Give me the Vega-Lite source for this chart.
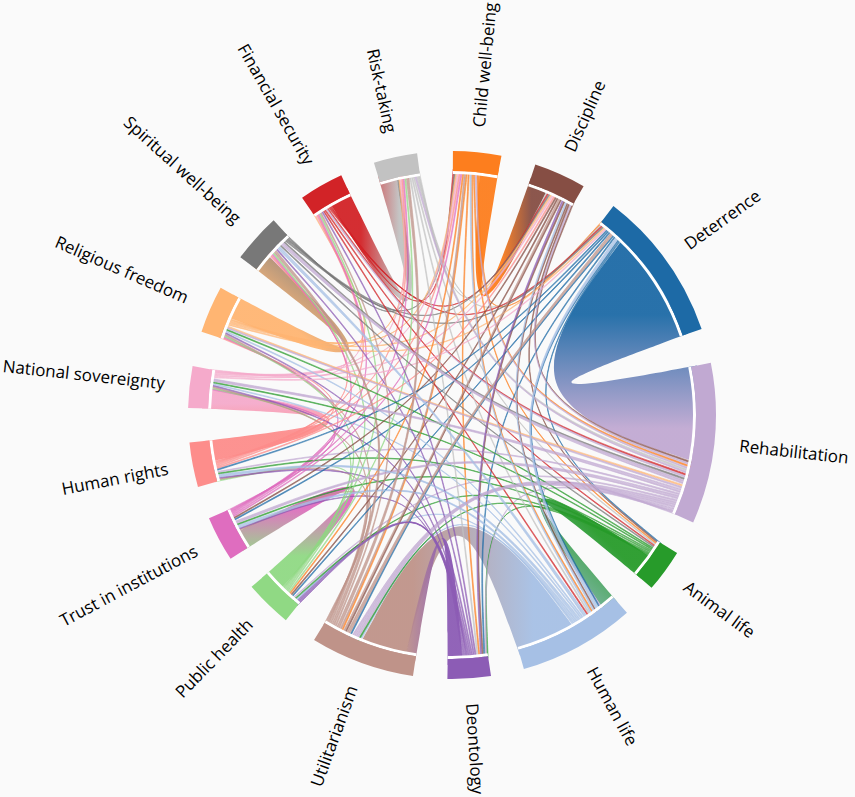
{
  "$schema": "https://vega.github.io/schema/vega-lite/v6.json",
  "width": 560,
  "height": 560,
  "autosize": "none",
  "padding": {"left": 172, "top": 135, "right": 123, "bottom": 102},
  "background": "#fafafa",
  "config": {"view": {"stroke": null}},
  "datasets": {
    "groups": [
      {"i": 0, "name": "Child well-being", "a0": 0.2, "a1": 10.8, "u0": 0.2, "u1": 6.5},
      {"i": 1, "name": "Discipline", "a0": 18.4, "a1": 29.9, "u0": 23, "u1": 29.9},
      {"i": 2, "name": "Deterrence", "a0": 37.7, "a1": 71, "u0": 37.7, "u1": 44},
      {"i": 3, "name": "Rehabilitation", "a0": 78.6, "a1": 114, "u0": 101, "u1": 114},
      {"i": 4, "name": "Animal life", "a0": 121.5, "a1": 130.9, "u0": 121.5, "u1": 125.5},
      {"i": 5, "name": "Human life", "a0": 138.5, "a1": 164.2, "u0": 142, "u1": 150},
      {"i": 6, "name": "Deontology", "a0": 171.5, "a1": 181, "u0": 171.5, "u1": 177.5},
      {"i": 7, "name": "Utilitarianism", "a0": 188.5, "a1": 211.5, "u0": 202, "u1": 211.5},
      {"i": 8, "name": "Public health", "a0": 219, "a1": 229.4, "u0": 219, "u1": 224.5},
      {"i": 9, "name": "Trust in institutions", "a0": 237, "a1": 247, "u0": 241.5, "u1": 247},
      {"i": 10, "name": "Human rights", "a0": 254.2, "a1": 264, "u0": 254.2, "u1": 259},
      {"i": 11, "name": "National sovereignty", "a0": 271.5, "a1": 280.7, "u0": 276, "u1": 280.7},
      {"i": 12, "name": "Religious freedom", "a0": 288.4, "a1": 298.8, "u0": 288.4, "u1": 293.5},
      {"i": 13, "name": "Spiritual well-being", "a0": 306.7, "a1": 317.5, "u0": 311, "u1": 317.5},
      {"i": 14, "name": "Financial security", "a0": 325.4, "a1": 335.2, "u0": 325.4, "u1": 330},
      {"i": 15, "name": "Risk-taking", "a0": 342.8, "a1": 352.4, "u0": 347, "u1": 352.4}
    ],
    "ribbons": [
      {"r": 1, "s0": 6.5, "s1": 10.8, "t0": 18.4, "t1": 23},
      {"r": 2, "s0": 44, "s1": 71, "t0": 78.6, "t1": 101},
      {"r": 3, "s0": 125.5, "s1": 130.9, "t0": 138.5, "t1": 142},
      {"r": 4, "s0": 150, "s1": 164.2, "t0": 191, "t1": 202},
      {"r": 5, "s0": 177.5, "s1": 181, "t0": 188.5, "t1": 191},
      {"r": 6, "s0": 224.5, "s1": 229.4, "t0": 237, "t1": 241.5},
      {"r": 7, "s0": 259, "s1": 264, "t0": 271.5, "t1": 276},
      {"r": 8, "s0": 293.5, "s1": 298.8, "t0": 306.7, "t1": 311},
      {"r": 9, "s0": 330, "s1": 335.2, "t0": 342.8, "t1": 347}
    ],
    "links": [
      {"a": 0, "b": 2}, {"a": 1, "b": 3}, {"a": 2, "b": 4}, {"a": 3, "b": 5}, {"a": 4, "b": 6}, {"a": 5, "b": 7}, {"a": 6, "b": 8}, {"a": 7, "b": 9},
      {"a": 8, "b": 10}, {"a": 9, "b": 11}, {"a": 10, "b": 12}, {"a": 11, "b": 13}, {"a": 12, "b": 14}, {"a": 13, "b": 15}, {"a": 14, "b": 0}, {"a": 15, "b": 1},
      {"a": 0, "b": 3}, {"a": 1, "b": 4}, {"a": 2, "b": 5}, {"a": 3, "b": 6}, {"a": 4, "b": 7}, {"a": 5, "b": 8}, {"a": 6, "b": 9}, {"a": 7, "b": 10},
      {"a": 8, "b": 11}, {"a": 9, "b": 12}, {"a": 10, "b": 13}, {"a": 11, "b": 14}, {"a": 12, "b": 15}, {"a": 13, "b": 0}, {"a": 14, "b": 1}, {"a": 15, "b": 2},
      {"a": 0, "b": 4}, {"a": 1, "b": 5}, {"a": 2, "b": 6}, {"a": 3, "b": 7}, {"a": 4, "b": 8}, {"a": 5, "b": 9}, {"a": 6, "b": 10}, {"a": 7, "b": 11},
      {"a": 8, "b": 12}, {"a": 9, "b": 13}, {"a": 10, "b": 14}, {"a": 11, "b": 15}, {"a": 12, "b": 0}, {"a": 13, "b": 1}, {"a": 14, "b": 2}, {"a": 15, "b": 3},
      {"a": 0, "b": 5}, {"a": 1, "b": 6}, {"a": 2, "b": 7}, {"a": 3, "b": 8}, {"a": 4, "b": 9}, {"a": 5, "b": 10}, {"a": 6, "b": 11}, {"a": 7, "b": 12},
      {"a": 8, "b": 13}, {"a": 9, "b": 14}, {"a": 10, "b": 15}, {"a": 11, "b": 0}, {"a": 12, "b": 1}, {"a": 13, "b": 2}, {"a": 14, "b": 3}, {"a": 15, "b": 4},
      {"a": 0, "b": 6}, {"a": 1, "b": 7}, {"a": 2, "b": 8}, {"a": 3, "b": 9}, {"a": 4, "b": 10}, {"a": 5, "b": 11}, {"a": 6, "b": 12}, {"a": 7, "b": 13},
      {"a": 8, "b": 14}, {"a": 9, "b": 15}, {"a": 10, "b": 0}, {"a": 11, "b": 1}, {"a": 12, "b": 2}, {"a": 13, "b": 3}, {"a": 14, "b": 4}, {"a": 15, "b": 5},
      {"a": 0, "b": 7}, {"a": 1, "b": 8}, {"a": 2, "b": 9}, {"a": 3, "b": 10}, {"a": 4, "b": 11}, {"a": 5, "b": 12}, {"a": 6, "b": 13}, {"a": 7, "b": 14},
      {"a": 8, "b": 15}, {"a": 9, "b": 0}, {"a": 10, "b": 1}, {"a": 11, "b": 2}, {"a": 12, "b": 3}, {"a": 13, "b": 4}, {"a": 14, "b": 5}, {"a": 15, "b": 6},
      {"a": 0, "b": 8}, {"a": 1, "b": 9}, {"a": 2, "b": 10}, {"a": 3, "b": 11}, {"a": 4, "b": 12}, {"a": 5, "b": 13}, {"a": 6, "b": 14}, {"a": 7, "b": 15},
      {"a": 3, "b": 7}, {"a": 3, "b": 7}, {"a": 3, "b": 7}, {"a": 3, "b": 13}, {"a": 3, "b": 13}, {"a": 3, "b": 0}, {"a": 3, "b": 1}, {"a": 3, "b": 9},
      {"a": 3, "b": 11}, {"a": 3, "b": 14}, {"a": 3, "b": 12}, {"a": 3, "b": 15}, {"a": 5, "b": 2}, {"a": 5, "b": 2}, {"a": 5, "b": 13}, {"a": 5, "b": 0},
      {"a": 5, "b": 1}, {"a": 5, "b": 10}, {"a": 5, "b": 9}, {"a": 7, "b": 2}, {"a": 7, "b": 2}, {"a": 7, "b": 1}, {"a": 7, "b": 13}, {"a": 7, "b": 0},
      {"a": 7, "b": 15}, {"a": 6, "b": 1}, {"a": 6, "b": 8}, {"a": 6, "b": 8}
    ]
  },
  "layer": [
    {
      "data": {"name": "ribbons"},
      "transform": [
        {"fold": ["t1", "t1", "t1", "c2", "s0", "s0", "s0", "s1", "s1", "s1", "c1", "t0", "t0", "t0"], "as": ["key", "v"]},
        {"calculate": "indexof(['t1','c2','s0','s1','c1','t0'], datum.key)", "as": "k"},
        {"calculate": "datum.key==='c2' ? 245*(sin(datum.t1*PI/180)+sin(datum.s0*PI/180))/8 : (datum.key==='c1' ? 245*(sin(datum.s1*PI/180)+sin(datum.t0*PI/180))/8 : 250*sin(datum.v*PI/180))", "as": "x"},
        {"calculate": "datum.key==='c2' ? 245*(cos(datum.t1*PI/180)+cos(datum.s0*PI/180))/8 : (datum.key==='c1' ? 245*(cos(datum.s1*PI/180)+cos(datum.t0*PI/180))/8 : 250*cos(datum.v*PI/180))", "as": "y"}
      ],
      "encoding": {
        "x": {"field": "x", "type": "quantitative", "scale": {"domain": [-280, 280], "nice": false, "zero": false}, "axis": null},
        "y": {"field": "y", "type": "quantitative", "scale": {"domain": [-280, 280], "nice": false, "zero": false}, "axis": null},
        "order": {"field": "k", "type": "quantitative"}
      },
      "layer": [
        {"transform": [{"filter": "datum.r===1"}], "mark": {"type": "line", "interpolate": "basis", "filled": true, "strokeWidth": 0, "fillOpacity": 0.95, "fill": {"gradient": "linear", "x1": 0, "y1": 0, "x2": 1, "y2": 0, "stops": [{"offset": 0, "color": "#fd7e1e"}, {"offset": 0.35, "color": "#fd7e1e"}, {"offset": 0.75, "color": "#864e44"}, {"offset": 1, "color": "#864e44"}]}}},
        {"transform": [{"filter": "datum.r===2"}], "mark": {"type": "line", "interpolate": "basis", "filled": true, "strokeWidth": 0, "fillOpacity": 0.95, "fill": {"gradient": "linear", "x1": 0, "y1": 0, "x2": 0, "y2": 1, "stops": [{"offset": 0, "color": "#1d6aa6"}, {"offset": 0.35, "color": "#1d6aa6"}, {"offset": 0.85, "color": "#c1a9d2"}, {"offset": 1, "color": "#c1a9d2"}]}}},
        {"transform": [{"filter": "datum.r===3"}], "mark": {"type": "line", "interpolate": "basis", "filled": true, "strokeWidth": 0, "fillOpacity": 0.95, "fill": {"gradient": "linear", "x1": 1, "y1": 0, "x2": 0, "y2": 1, "stops": [{"offset": 0, "color": "#279b2a"}, {"offset": 0.4, "color": "#279b2a"}, {"offset": 1, "color": "#a6c0e5"}]}}},
        {"transform": [{"filter": "datum.r===4"}], "mark": {"type": "line", "interpolate": "basis", "filled": true, "strokeWidth": 0, "fillOpacity": 0.95, "fill": {"gradient": "linear", "x1": 1, "y1": 0, "x2": 0, "y2": 0, "stops": [{"offset": 0, "color": "#a6c0e5"}, {"offset": 0.2, "color": "#a6c0e5"}, {"offset": 0.75, "color": "#bf9389"}, {"offset": 1, "color": "#bf9389"}]}}},
        {"transform": [{"filter": "datum.r===5"}], "mark": {"type": "line", "interpolate": "basis", "filled": true, "strokeWidth": 0, "fillOpacity": 0.95, "fill": {"gradient": "linear", "x1": 1, "y1": 0, "x2": 0, "y2": 0, "stops": [{"offset": 0, "color": "#8c5cb5"}, {"offset": 0.3, "color": "#8c5cb5"}, {"offset": 1, "color": "#bf9389"}]}}},
        {"transform": [{"filter": "datum.r===6"}], "mark": {"type": "line", "interpolate": "basis", "filled": true, "strokeWidth": 0, "fillOpacity": 0.95, "fill": {"gradient": "linear", "x1": 0, "y1": 1, "x2": 0, "y2": 0, "stops": [{"offset": 0, "color": "#90d984"}, {"offset": 0.35, "color": "#90d984"}, {"offset": 0.8, "color": "#df6dbf"}, {"offset": 1, "color": "#df6dbf"}]}}},
        {"transform": [{"filter": "datum.r===7"}], "mark": {"type": "line", "interpolate": "basis", "filled": true, "strokeWidth": 0, "fillOpacity": 0.95, "fill": {"gradient": "linear", "x1": 0, "y1": 1, "x2": 0, "y2": 0, "stops": [{"offset": 0, "color": "#fd8d8b"}, {"offset": 0.4, "color": "#fd8d8b"}, {"offset": 0.8, "color": "#f5aacb"}, {"offset": 1, "color": "#f5aacb"}]}}},
        {"transform": [{"filter": "datum.r===8"}], "mark": {"type": "line", "interpolate": "basis", "filled": true, "strokeWidth": 0, "fillOpacity": 0.95, "fill": {"gradient": "linear", "x1": 0, "y1": 1, "x2": 1, "y2": 0, "stops": [{"offset": 0, "color": "#ffb572"}, {"offset": 0.4, "color": "#ffb572"}, {"offset": 0.85, "color": "#787878"}, {"offset": 1, "color": "#787878"}]}}},
        {"transform": [{"filter": "datum.r===9"}], "mark": {"type": "line", "interpolate": "basis", "filled": true, "strokeWidth": 0, "fillOpacity": 0.95, "fill": {"gradient": "linear", "x1": 0, "y1": 0, "x2": 1, "y2": 0, "stops": [{"offset": 0, "color": "#d22327"}, {"offset": 0.4, "color": "#d22327"}, {"offset": 0.85, "color": "#c2c2c2"}, {"offset": 1, "color": "#c2c2c2"}]}}}
      ]
    },
    {
      "data": {"name": "links"},
      "transform": [
        {"window": [{"op": "row_number", "as": "id"}]},
        {"fold": ["a", "b"], "as": ["end", "g"]},
        {"calculate": "datum.end==='a' ? datum.b : datum.a", "as": "other"},
        {"calculate": "(datum.other - datum.g + 16) % 16", "as": "d"},
        {"calculate": "datum.end==='a' ? datum.id : -datum.id", "as": "tb"},
        {"window": [{"op": "row_number", "as": "slot"}], "groupby": ["g"], "sort": [{"field": "d", "order": "descending"}, {"field": "tb", "order": "ascending"}]},
        {"joinaggregate": [{"op": "count", "as": "n"}], "groupby": ["g"]},
        {"lookup": "g", "from": {"data": {"name": "groups"}, "key": "i", "fields": ["u0", "u1"]}},
        {"calculate": "datum.u0 + (datum.slot-0.5)*(datum.u1-datum.u0)/datum.n", "as": "ang"},
        {"calculate": "0.33*(datum.u1-datum.u0)/datum.n", "as": "hw"},
        {"calculate": "datum.end==='a' ? datum.ang : null", "as": "pa"},
        {"calculate": "datum.end==='b' ? datum.ang : null", "as": "pb"},
        {"calculate": "datum.end==='a' ? datum.hw : null", "as": "ha"},
        {"calculate": "datum.end==='b' ? datum.hw : null", "as": "hb"},
        {"joinaggregate": [{"op": "max", "field": "pa", "as": "A"}, {"op": "max", "field": "pb", "as": "B"}, {"op": "max", "field": "ha", "as": "HA"}, {"op": "max", "field": "hb", "as": "HB"}], "groupby": ["id"]},
        {"filter": "datum.end==='a'"},
        {"calculate": "datum.A - datum.HA", "as": "s0"},
        {"calculate": "datum.A + datum.HA", "as": "s1"},
        {"calculate": "datum.B - datum.HB", "as": "t0"},
        {"calculate": "datum.B + datum.HB", "as": "t1"},
        {"fold": ["t1", "t1", "t1", "c2", "s0", "s0", "s0", "s1", "s1", "s1", "c1", "t0", "t0", "t0"], "as": ["key", "v"]},
        {"calculate": "indexof(['t1','c2','s0','s1','c1','t0'], datum.key)", "as": "k"},
        {"calculate": "datum.key==='c2' ? 243*(sin(datum.t1*PI/180)+sin(datum.s0*PI/180))/8 : (datum.key==='c1' ? 243*(sin(datum.s1*PI/180)+sin(datum.t0*PI/180))/8 : 246*sin(datum.v*PI/180))", "as": "x"},
        {"calculate": "datum.key==='c2' ? 243*(cos(datum.t1*PI/180)+cos(datum.s0*PI/180))/8 : (datum.key==='c1' ? 243*(cos(datum.s1*PI/180)+cos(datum.t0*PI/180))/8 : 246*cos(datum.v*PI/180))", "as": "y"}
      ],
      "mark": {"type": "line", "interpolate": "basis", "filled": true, "strokeWidth": 0.7, "opacity": 0.8},
      "encoding": {
        "x": {"field": "x", "type": "quantitative", "scale": {"domain": [-280, 280], "nice": false, "zero": false}, "axis": null},
        "y": {"field": "y", "type": "quantitative", "scale": {"domain": [-280, 280], "nice": false, "zero": false}, "axis": null},
        "detail": {"field": "id", "type": "nominal"},
        "order": {"field": "k", "type": "quantitative"},
        "color": {"field": "a", "type": "nominal", "legend": null, "scale": {"domain": [0, 1, 2, 3, 4, 5, 6, 7, 8, 9, 10, 11, 12, 13, 14, 15], "range": ["#fd7e1e", "#864e44", "#1d6aa6", "#c1a9d2", "#279b2a", "#a6c0e5", "#8c5cb5", "#bf9389", "#90d984", "#df6dbf", "#fd8d8b", "#f5aacb", "#ffb572", "#787878", "#d22327", "#c2c2c2"]}},
        "stroke": {"field": "a", "type": "nominal", "legend": null, "scale": {"domain": [0, 1, 2, 3, 4, 5, 6, 7, 8, 9, 10, 11, 12, 13, 14, 15], "range": ["#fd7e1e", "#864e44", "#1d6aa6", "#c1a9d2", "#279b2a", "#a6c0e5", "#8c5cb5", "#bf9389", "#90d984", "#df6dbf", "#fd8d8b", "#f5aacb", "#ffb572", "#787878", "#d22327", "#c2c2c2"]}}
      }
    },
    {
      "data": {"name": "groups"},
      "mark": {"type": "arc", "innerRadius": 241, "outerRadius": 244, "fill": "white"},
      "encoding": {
        "theta": {"field": "a0", "type": "quantitative", "scale": {"domain": [0, 360], "range": [0, 6.283185307179586]}, "stack": null},
        "theta2": {"field": "a1"}
      }
    },
    {
      "data": {"name": "groups"},
      "mark": {"type": "arc", "innerRadius": 244, "outerRadius": 264},
      "encoding": {
        "theta": {"field": "a0", "type": "quantitative", "scale": {"domain": [0, 360], "range": [0, 6.283185307179586]}, "stack": null},
        "theta2": {"field": "a1"},
        "color": {"field": "i", "type": "nominal", "legend": null, "scale": {"domain": [0, 1, 2, 3, 4, 5, 6, 7, 8, 9, 10, 11, 12, 13, 14, 15], "range": ["#fd7e1e", "#864e44", "#1d6aa6", "#c1a9d2", "#279b2a", "#a6c0e5", "#8c5cb5", "#bf9389", "#90d984", "#df6dbf", "#fd8d8b", "#f5aacb", "#ffb572", "#787878", "#d22327", "#c2c2c2"]}}
      }
    },
    {
      "data": {"name": "groups"},
      "transform": [
        {"calculate": "(datum.a0+datum.a1)/2", "as": "mid"},
        {"filter": "datum.mid < 180"},
        {"calculate": "datum.mid - 90", "as": "rot"}
      ],
      "mark": {"type": "text", "radius": 289, "align": "left", "baseline": "middle", "fontSize": 17, "font": "Open Sans", "color": "#000000"},
      "encoding": {
        "theta": {"field": "mid", "type": "quantitative", "scale": {"domain": [0, 360], "range": [0, 6.283185307179586]}, "stack": null},
        "angle": {"field": "rot", "type": "quantitative", "scale": null},
        "text": {"field": "name", "type": "nominal"}
      }
    },
    {
      "data": {"name": "groups"},
      "transform": [
        {"calculate": "(datum.a0+datum.a1)/2", "as": "mid"},
        {"filter": "datum.mid >= 180"},
        {"calculate": "datum.mid - 270", "as": "rot"}
      ],
      "mark": {"type": "text", "radius": 289, "align": "right", "baseline": "middle", "fontSize": 17, "font": "Open Sans", "color": "#000000"},
      "encoding": {
        "theta": {"field": "mid", "type": "quantitative", "scale": {"domain": [0, 360], "range": [0, 6.283185307179586]}, "stack": null},
        "angle": {"field": "rot", "type": "quantitative", "scale": null},
        "text": {"field": "name", "type": "nominal"}
      }
    }
  ]
}
